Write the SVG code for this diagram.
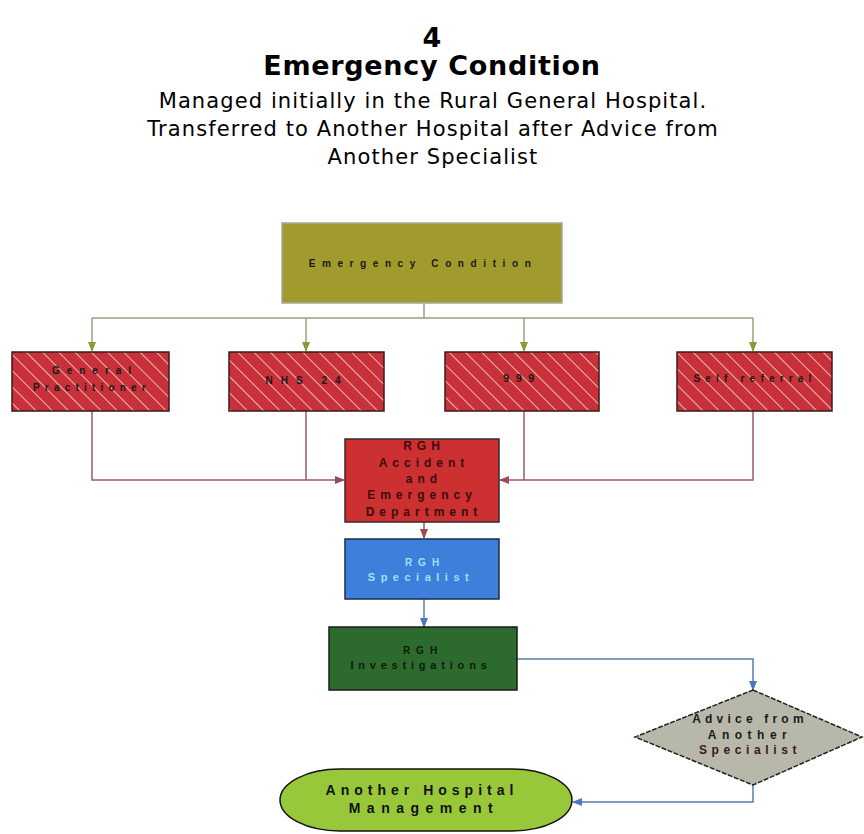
<svg xmlns="http://www.w3.org/2000/svg" width="864" height="834" viewBox="0 0 864 834">
<defs>
<style>
.title{font-family:"DejaVu Sans",Verdana,sans-serif;font-weight:bold;fill:#000;text-anchor:middle}
.sub{font-family:"DejaVu Sans",Verdana,sans-serif;font-size:21px;letter-spacing:1.1px;fill:#000;text-anchor:middle}
.lbl{font-family:"Liberation Sans",Arial,sans-serif;font-size:10px;font-weight:bold;text-anchor:middle;fill:#1a1a1a}
.olive{fill:none;stroke:#9c9c80;stroke-width:1.5}
.red{fill:none;stroke:#9a5c62;stroke-width:1.5}
.blue{fill:none;stroke:#5a7bb0;stroke-width:1.5}
</style>
<pattern id="hatch" width="11.5" height="11.5" patternUnits="userSpaceOnUse" patternTransform="rotate(45)">
<rect width="11.5" height="11.5" fill="#c8303a"/>
<line x1="0" y1="0.5" x2="11.5" y2="0.5" stroke="#f2c6b8" stroke-width="0.9"/>
</pattern>
<marker id="aOl" markerWidth="10" markerHeight="8" refX="9" refY="4" orient="auto" markerUnits="userSpaceOnUse">
<path d="M0,0 L10,4 L0,8 Z" fill="#8a9a34"/>
</marker>
<marker id="aRd" markerWidth="10" markerHeight="8" refX="9" refY="4" orient="auto" markerUnits="userSpaceOnUse">
<path d="M0,0 L10,4 L0,8 Z" fill="#9a4a50"/>
</marker>
<marker id="aBl" markerWidth="10" markerHeight="8" refX="9" refY="4" orient="auto" markerUnits="userSpaceOnUse">
<path d="M0,0 L10,4 L0,8 Z" fill="#4a78c0"/>
</marker>
</defs>
<rect width="864" height="834" fill="#fff"/>

<g id="heading">
<text class="title" x="432" y="47" font-size="27">4</text>
<text class="title" x="432" y="75" font-size="27" letter-spacing="0.7">Emergency Condition</text>
<text class="sub" x="433" y="108">Managed initially in the Rural General Hospital.</text>
<text class="sub" x="433" y="136">Transferred to Another Hospital after Advice from</text>
<text class="sub" x="433" y="164">Another Specialist</text>
</g>

<g id="connectors">
<path class="olive" d="M424,303 V318"/>
<path class="olive" d="M92,318 H753"/>
<path class="olive" d="M92,318 V351" marker-end="url(#aOl)"/>
<path class="olive" d="M306,318 V351" marker-end="url(#aOl)"/>
<path class="olive" d="M524,318 V351" marker-end="url(#aOl)"/>
<path class="olive" d="M753,318 V351" marker-end="url(#aOl)"/>
<path class="red" d="M92,411 V480 H344" marker-end="url(#aRd)"/>
<path class="red" d="M306,411 V480"/>
<path class="red" d="M524,411 V480"/>
<path class="red" d="M753,411 V480 H500" marker-end="url(#aRd)"/>
<path class="red" d="M424,522 V538" marker-end="url(#aRd)"/>
<path class="blue" d="M424,599 V627" marker-end="url(#aBl)"/>
<path class="blue" d="M517,659 H753 V690" marker-end="url(#aBl)"/>
<path class="blue" d="M753,785 V802 H573" marker-end="url(#aBl)"/>
</g>

<g id="emergency">
<rect x="282" y="223" width="280" height="80" fill="#a09b2c" stroke="#a8a8a0" stroke-width="1.5"/>
<text class="lbl" x="423" y="267" font-size="11" letter-spacing="6.6">Emergency Condition</text>
</g>

<g id="gp">
<rect x="12" y="352" width="157" height="59" fill="url(#hatch)" stroke="#3a1a1a" stroke-width="1.5"/>
<text class="lbl" x="95" y="374" letter-spacing="7">General</text>
<text class="lbl" x="92" y="391" letter-spacing="5.2">Practitioner</text>
</g>

<g id="nhs24">
<rect x="229" y="352" width="155" height="59" fill="url(#hatch)" stroke="#3a1a1a" stroke-width="1.5"/>
<text class="lbl" x="307" y="384" letter-spacing="8">NHS 24</text>
</g>

<g id="n999">
<rect x="445" y="352" width="154" height="59" fill="url(#hatch)" stroke="#3a1a1a" stroke-width="1.5"/>
<text class="lbl" x="522" y="382" style="font-size:11px" letter-spacing="6.5">999</text>
</g>

<g id="selfref">
<rect x="677" y="352" width="155" height="59" fill="url(#hatch)" stroke="#3a1a1a" stroke-width="1.5"/>
<text class="lbl" x="755" y="382" letter-spacing="5.2">Self referral</text>
</g>

<g id="ae">
<rect x="345" y="439" width="154" height="83" fill="#cc3030" stroke="#3a2a2a" stroke-width="1.5"/>
<g class="lbl" style="font-size:12px;fill:#3a0e0e" letter-spacing="5">
<text x="424" y="450">RGH</text>
<text x="424" y="467">Accident</text>
<text x="424" y="483">and</text>
<text x="422" y="499">Emergency</text>
<text x="424" y="516">Department</text>
</g>
</g>

<g id="specialist">
<rect x="345" y="539" width="154" height="60" fill="#3c80dc" stroke="#1c2c48" stroke-width="1.5"/>
<text class="lbl" x="425" y="566" style="fill:#9fe2f2" letter-spacing="6">RGH</text>
<text class="lbl" x="421" y="581" style="fill:#9fe2f2;font-size:11px" letter-spacing="5.5">Specialist</text>
</g>

<g id="investigations">
<rect x="329" y="627" width="188" height="63" fill="#2d6a2d" stroke="#1a1a1a" stroke-width="1.5"/>
<text class="lbl" x="423" y="654" style="fill:#0c1a0c" letter-spacing="6">RGH</text>
<text class="lbl" x="421" y="669" style="fill:#0c1a0c;font-size:11px" letter-spacing="4.8">Investigations</text>
</g>

<g id="advice">
<polygon points="753,690 862,737 753,785 635,737" fill="#b8b8aa" stroke="#222" stroke-width="1.5" stroke-dasharray="5,1.5"/>
<text class="lbl" x="750" y="723" style="font-size:12px" letter-spacing="4.2">Advice from</text>
<text class="lbl" x="750" y="739" style="font-size:12px" letter-spacing="5.5">Another</text>
<text class="lbl" x="750" y="754" style="font-size:12px;fill:#3a1818" letter-spacing="4.6">Specialist</text>
</g>

<g id="another">
<rect x="280" y="769" width="292" height="62" rx="60" ry="31" fill="#98c83a" stroke="#111" stroke-width="1.5"/>
<text class="lbl" x="422" y="795" style="font-size:14px;fill:#111" letter-spacing="5">Another Hospital</text>
<text class="lbl" x="424" y="813" style="font-size:14px;fill:#111" letter-spacing="6.5">Management</text>
</g>
</svg>
